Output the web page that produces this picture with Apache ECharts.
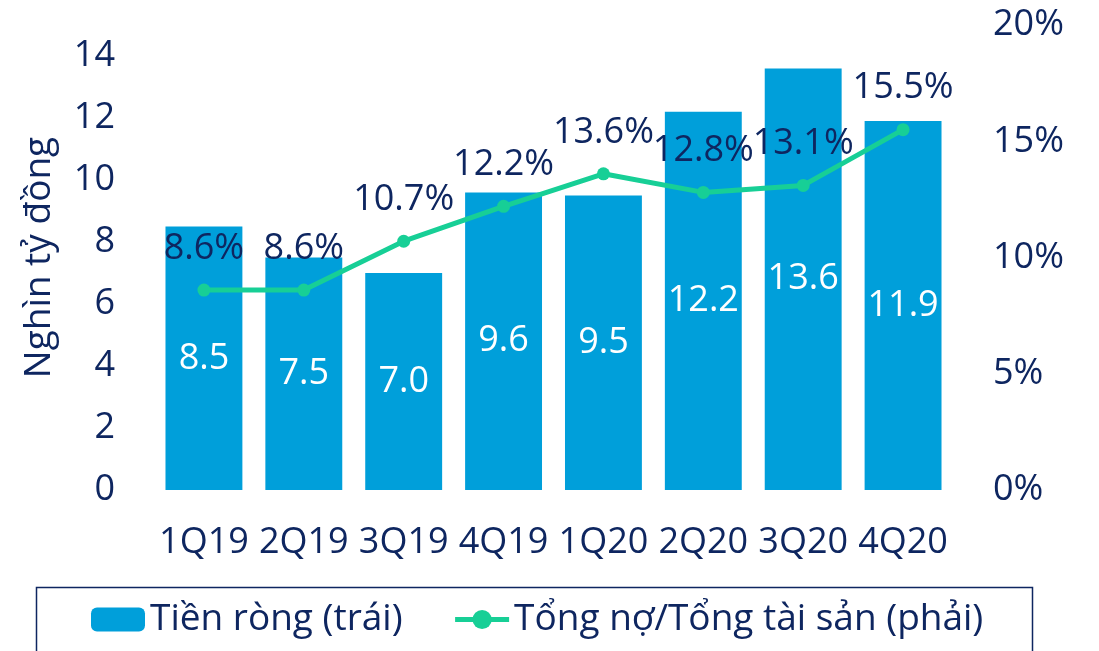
<!DOCTYPE html>
<html>
<head>
<meta charset="utf-8">
<script src="https://cdn.jsdelivr.net/npm/echarts@6/dist/echarts.min.js"></script>
<style>html,body{margin:0;padding:0;background:#fff;}#c{width:1099px;height:651px;}</style>
</head>
<body>
<div id="c"></div>
<script>
const categories = ['1Q19','2Q19','3Q19','4Q19','1Q20','2Q20','3Q20','4Q20'];
const netCash = [8.5, 7.5, 7.0, 9.6, 9.5, 12.2, 13.6, 11.9];
const debtRatio = [8.6, 8.6, 10.7, 12.2, 13.6, 12.8, 13.1, 15.5];
const barName = 'Tiền ròng (trái)';
const lineName = 'Tổng nợ/Tổng tài sản (phải)';
const leftTitle = 'Nghìn tỷ đồng';

const NAVY = '#0E2660';
const FONT = 'Open Sans';
const chart = echarts.init(document.getElementById('c'), null, {renderer: 'canvas'});
chart.setOption({
  animation: false,
  backgroundColor: '#fff',
  textStyle: {fontFamily: FONT},
  grid: {left: 154, right: 146, top: 25, bottom: 161},
  legend: {
    left: 86, top: 596,
    itemWidth: 54, itemHeight: 24, itemGap: 50,
    lineStyle: {width: 5},
    textStyle: {fontSize: 37, color: NAVY, fontFamily: FONT},
    data: [barName, lineName]
  },
  graphic: [{
    type: 'rect', left: 34, top: 585,
    shape: {width: 996, height: 90},
    style: {fill: 'none', stroke: NAVY, lineWidth: 1.5}
  }],
  xAxis: {
    type: 'category', data: categories,
    axisLine: {show: false}, axisTick: {show: false},
    axisLabel: {interval: 0, fontSize: 36, color: NAVY, margin: 35, fontFamily: FONT}
  },
  yAxis: [{
    type: 'value', min: 0, max: 15, interval: 2,
    name: leftTitle, nameLocation: 'middle', nameGap: 96, nameRotate: 90,
    nameTextStyle: {fontSize: 37, color: NAVY, fontFamily: FONT},
    splitLine: {show: false}, axisLine: {show: false}, axisTick: {show: false},
    axisLabel: {fontSize: 36, color: NAVY, margin: 39, fontFamily: FONT,
      formatter: v => (v === 15 ? '' : String(v))}
  }, {
    type: 'value', min: 0, max: 20, interval: 5, position: 'right',
    splitLine: {show: false}, axisLine: {show: false}, axisTick: {show: false},
    axisLabel: {fontSize: 36, color: NAVY, margin: 40, fontFamily: FONT,
      formatter: v => v + '%'}
  }],
  series: [{
    name: barName, type: 'bar', data: netCash, yAxisIndex: 0,
    barCategoryGap: '23%',
    itemStyle: {color: '#009FDA'},
    label: {show: true, position: 'inside', color: '#fff', fontSize: 36, fontFamily: FONT,
      formatter: p => p.value.toFixed(1)}
  }, {
    name: lineName, type: 'line', data: debtRatio, yAxisIndex: 1,
    symbol: 'circle', symbolSize: 13,
    lineStyle: {color: '#17CF96', width: 5},
    itemStyle: {color: '#17CF96'},
    label: {show: true, position: 'top', distance: 17, color: NAVY, fontSize: 36, fontFamily: FONT,
      formatter: p => p.value.toFixed(1) + '%'}
  }]
});
</script>
</body>
</html>
